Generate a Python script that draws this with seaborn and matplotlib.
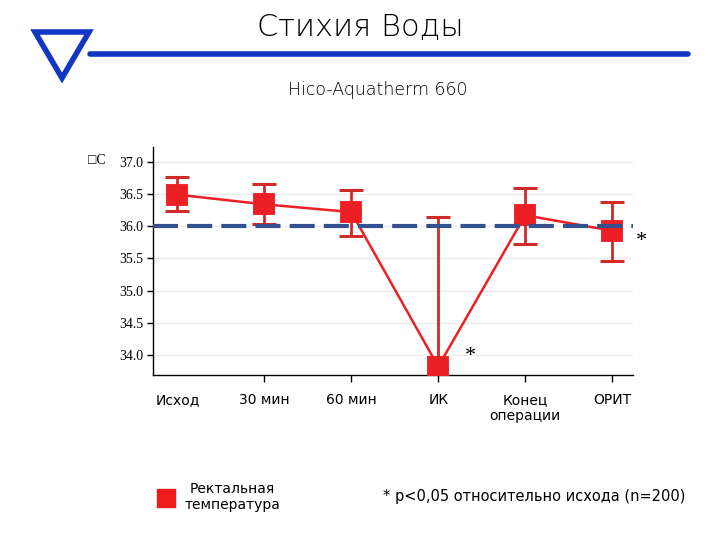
import numpy as np
import seaborn as sns
import matplotlib.pyplot as plt
from matplotlib.lines import Line2D
from matplotlib.patches import Polygon

# данные (ректальная температура)
categories = ["Исход", "30 мин", "60 мин", "ИК", "Конец\nоперации", "ОРИТ"]
temp_mean = [36.49, 36.34, 36.22, 33.82, 36.17, 35.93]
temp_low = [36.23, 36.04, 35.85, 33.50, 35.72, 35.46]
temp_high = [36.77, 36.66, 36.56, 36.15, 36.59, 36.38]
y_ticks = [34.0, 34.5, 35.0, 35.5, 36.0, 36.5, 37.0]
baseline = 36.0

sns.set_style("white")
plt.rcParams['font.family'] = ['DejaVu Sans']
plt.rcParams['text.color'] = 'black'
plt.rcParams['xtick.color'] = 'black'
plt.rcParams['ytick.color'] = 'black'

fig = plt.figure(figsize=(7.2, 5.4), dpi=100)
ax = fig.add_axes([153/720, 1-375/540, 480/720, 228/540])

# сетка
for t in y_ticks:
    ax.axhline(t, color="#ebebeb", lw=1, zorder=0)

# усы
mean = np.array(temp_mean)
yerr = [mean - np.array(temp_low), np.array(temp_high) - mean]
ax.errorbar(range(len(categories)), temp_mean, yerr=yerr, fmt="none",
            ecolor="#d02a2a", elinewidth=2, capsize=8.5, capthick=2.2, zorder=2)

# линия с маркерами
sns.pointplot(x=categories, y=temp_mean, color="#ec2024", markers="s",
              markersize=14, linewidth=1.8, errorbar=None, ax=ax)
for coll in ax.lines[-1:]:
    coll.set_zorder(3)

# пунктир 36.0
ax.axhline(baseline, color="#34508f", lw=3, linestyle=(0, (6, 2.2)), zorder=4)

ax.set_xlim(-0.28, 5.24)
ax.set_ylim(33.69, 37.23)
ax.set_yticks(y_ticks)
ax.set_yticklabels([f"{t:.1f}" for t in y_ticks], family="Liberation Serif", fontsize=10)
ax.set_xlabel("")
ax.set_ylabel("")
for lab in ax.get_xticklabels():
    lab.set_fontsize(10)
    lab.set_multialignment("center")
    lab.set_color("black")
ax.tick_params(axis="x", length=5, width=1, pad=8, direction="out", bottom=True)
ax.tick_params(axis="y", length=4, width=1, pad=3, direction="out", left=True)
ax.xaxis.get_major_ticks()[0].tick1line.set_visible(False)

for s in ["top", "right"]:
    ax.spines[s].set_visible(False)
for s in ["left", "bottom"]:
    ax.spines[s].set_color("black")
    ax.spines[s].set_linewidth(1)

# звездочки
ax.text(3.37, 33.98, "*", family="Liberation Serif", fontsize=16, ha="center", va="center")
ax.text(5.34, 35.76, "*", family="Liberation Serif", fontsize=16, ha="center", va="center")

fig.text(88/720, 1-161/540, "□C", fontsize=10, va="center", ha="left",
         family="Liberation Serif")

# заголовок
fig.text(360/720, 1-28/540, "Стихия Воды", fontsize=22, ha="center", va="center",
         fontweight="light")
fig.text(378/720, 1-90/540, "Hico-Aquatherm 660", fontsize=12.5, ha="center", va="center",
         fontweight="light")
fig.add_artist(Line2D([90/720, 688/720], [1-54/540, 1-54/540], color="#1235c4",
                      lw=4, transform=fig.transFigure))
tri = Polygon([[35/720, 1-32/540], [89/720, 1-32/540], [62/720, 1-78/540]],
              closed=True, fill=False, edgecolor="#1235c4", lw=4,
              transform=fig.transFigure)
fig.add_artist(tri)

# легенда
handle = Line2D([], [], marker="s", color="#ee1c1c", ls="none", markersize=13)
leg = fig.legend([handle], ["Ректальная\nтемпература"], loc="center left",
                 bbox_to_anchor=(140/720, 1-497/540), frameon=False,
                 fontsize=10, handletextpad=0.3)
for t in leg.get_texts():
    t.set_multialignment("center")
    t.set_color("black")

fig.text(534/720, 1-497/540, "* p<0,05 относительно исхода (n=200)", fontsize=10.5,
         ha="center", va="center")

fig.savefig("out.png", dpi=100)
